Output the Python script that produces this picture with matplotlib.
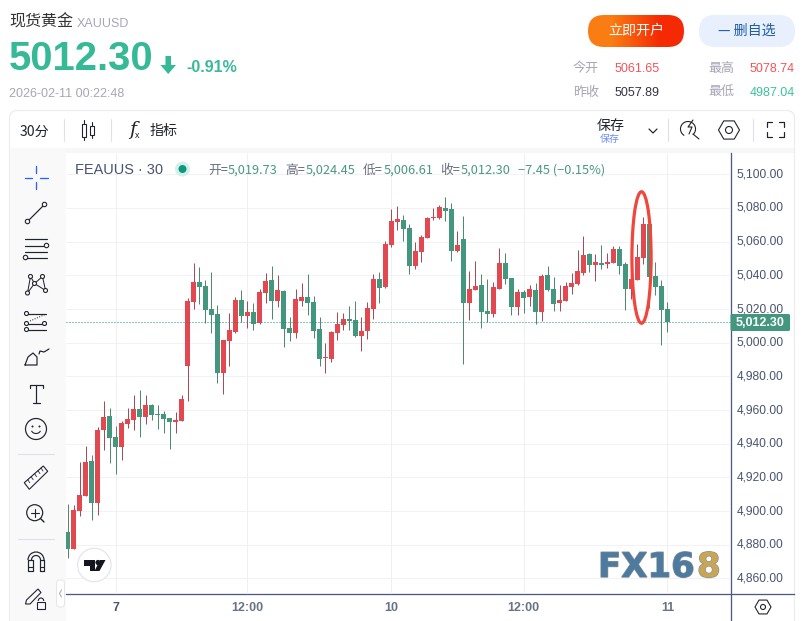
import numpy as np
import matplotlib
matplotlib.use("Agg")
import matplotlib.pyplot as plt
from matplotlib.patches import Circle, Ellipse, FancyBboxPatch, Polygon, Rectangle, Arc
from matplotlib.transforms import ScaledTranslation
import matplotlib.patheffects as pe

# candles (30 min bars)
opens = [4887.5, 4877.4, 4900.0, 4908.9, 4929.7, 4904.8, 4948.1, 4956.4, 4944.0, 4938.0,
         4951.7, 4954.1, 4960.6, 4955.9, 4963.0, 4957.6, 4957.6, 4955.3, 4952.9, 4953.5,
         4986.2, 5024.2, 5036.0, 5033.7, 5020.0, 5017.0, 4982.0, 5001.0, 5006.4, 5025.4,
         5015.9, 5018.3, 5011.7, 5029.6, 5037.3, 5024.8, 5030.8, 5008.8, 5005.8, 5024.8,
         5027.2, 5024.2, 5008.2, 4990.9, 4990.3, 5005.8, 5010.5, 5014.1, 5013.5, 5004.0,
         5007.0, 5020.1, 5037.9, 5033.2, 5058.2, 5071.9, 5073.0, 5068.3, 5045.7, 5054.0,
         5062.3, 5074.2, 5074.2, 5080.2, 5079.6, 5054.6, 5061.7, 5023.6, 5031.4, 5034.4,
         5018.9, 5017.1, 5032.0, 5047.5, 5038.5, 5021.3, 5030.2, 5027.2, 5031.4, 5018.3,
         5040.3, 5031.8, 5023.5, 5024.7, 5033.0, 5034.8, 5041.4, 5052.7, 5046.2, 5047.3,
         5046.8, 5047.3, 5055.7, 5046.8, 5031.8, 5037.2, 5050.3, 5070.6, 5039.6, 5033.6,
         5019.73]
highs = [4904.2, 4903.6, 4929.1, 4938.6, 4933.3, 4949.9, 4965.4, 4961.2, 4950.5, 4953.5,
         4961.2, 4968.9, 4971.9, 4968.9, 4963.6, 4963.0, 4959.4, 4955.3, 4958.8, 4968.9,
         5026.5, 5047.3, 5045.0, 5037.2, 5042.0, 5022.4, 5001.6, 5017.7, 5027.2, 5031.4,
         5024.8, 5023.6, 5032.0, 5041.5, 5045.7, 5040.3, 5031.4, 5015.3, 5032.0, 5035.5,
         5040.9, 5027.8, 5015.3, 4999.8, 5007.0, 5018.3, 5017.7, 5021.9, 5024.8, 5015.3,
         5024.2, 5040.9, 5042.1, 5060.5, 5079.6, 5081.4, 5076.0, 5070.7, 5059.9, 5064.1,
         5074.8, 5080.2, 5082.0, 5086.7, 5083.2, 5066.5, 5075.4, 5042.7, 5048.6, 5040.9,
         5037.9, 5036.1, 5056.4, 5053.4, 5038.5, 5032.0, 5031.4, 5034.4, 5035.5, 5040.9,
         5045.7, 5039.0, 5034.2, 5036.0, 5041.4, 5055.1, 5063.5, 5053.3, 5052.7, 5058.1,
         5053.3, 5057.5, 5057.5, 5047.9, 5037.8, 5058.7, 5074.8, 5079.0, 5047.9, 5037.2,
         5024.45]
lows = [4872.1, 4877.4, 4897.0, 4908.9, 4894.7, 4897.6, 4936.2, 4928.5, 4922.0, 4930.3,
        4949.3, 4948.1, 4944.0, 4951.7, 4954.1, 4948.7, 4946.3, 4936.8, 4946.3, 4953.5,
        4965.4, 5020.0, 5023.0, 5011.7, 5005.8, 4976.0, 4969.5, 4986.1, 5005.8, 5012.3,
        5008.8, 5007.6, 5011.1, 5023.6, 5014.1, 5021.3, 4997.5, 5001.0, 5002.8, 5021.9,
        5016.5, 5002.8, 4986.1, 4982.0, 4988.5, 5001.6, 5007.6, 5007.6, 5003.4, 4995.1,
        5002.2, 5014.1, 5023.6, 5032.6, 5057.0, 5067.1, 5060.5, 5040.9, 5043.9, 5048.0,
        5062.3, 5073.0, 5073.6, 5072.4, 5048.6, 5054.0, 4987.3, 5013.5, 5031.4, 5008.8,
        5012.3, 5015.3, 5032.0, 5035.0, 5016.5, 5016.5, 5017.7, 5021.9, 5011.1, 5012.9,
        5030.8, 5018.7, 5018.7, 5024.7, 5028.8, 5034.2, 5040.2, 5042.0, 5036.6, 5043.8,
        5044.4, 5047.3, 5040.8, 5019.3, 5025.9, 5037.2, 5046.8, 5020.5, 5028.2, 4998.4,
        5006.61]
closes = [4877.4, 4900.6, 4909.5, 4929.1, 4904.8, 4948.1, 4955.9, 4943.4, 4938.0, 4952.3,
          4954.7, 4960.6, 4955.9, 4963.0, 4957.0, 4957.0, 4954.7, 4952.9, 4954.1, 4966.5,
          5024.8, 5036.0, 5033.1, 5019.4, 5016.4, 4982.0, 5001.6, 5007.6, 5025.4, 5015.9,
          5018.3, 5011.1, 5030.2, 5036.7, 5024.8, 5031.4, 5008.2, 5005.8, 5026.0, 5027.2,
          5023.6, 5007.0, 4990.3, 4991.5, 5006.4, 5011.1, 5014.1, 5012.9, 5004.0, 5007.0,
          5020.7, 5037.9, 5032.6, 5058.8, 5072.4, 5073.6, 5067.7, 5045.7, 5054.6, 5062.9,
          5074.2, 5074.8, 5080.8, 5078.4, 5054.6, 5058.2, 5023.6, 5032.0, 5033.8, 5018.3,
          5017.1, 5033.2, 5047.5, 5037.9, 5021.3, 5030.2, 5026.6, 5032.0, 5018.3, 5039.7,
          5031.4, 5022.9, 5025.3, 5033.6, 5035.4, 5042.6, 5052.1, 5046.2, 5047.9, 5046.2,
          5047.9, 5055.7, 5045.6, 5031.8, 5037.8, 5050.9, 5070.6, 5039.0, 5033.0, 5019.3,
          5012.30]
last_price = 5012.30
y_ticks = list(range(4860, 5101, 20))
x_ticks = [8, 30, 54, 76, 100]
x_labels = ["7", "12:00", "10", "12:00", "11"]

W, H = 806, 621
CJK = ['Noto Sans CJK SC', 'Liberation Sans']
INK = "#20222c"
AXIS = "#4a5a80"
GRAY = "#a6a6b6"
RED = "#e3474f"
RED_WICK = "#a54c58"
GREEN = "#43977f"
GREEN_WICK = "#4f8a6c"
plt.rcParams['font.family'] = CJK


def pt(px):
    return px * 0.72


fig = plt.figure(figsize=(W / 100, H / 100), dpi=100, facecolor="white")


def pixel_axes(z):
    a = fig.add_axes([0, 0, 1, 1], zorder=z)
    a.set_xlim(0, W)
    a.set_ylim(H, 0)
    a.axis("off")
    a.patch.set_alpha(0)
    return a


bg = pixel_axes(0)
top = pixel_axes(2)

# chart axes, placed in pixels
x0, x1, y0, y1 = 66, 730.5, 153, 594
ax = fig.add_axes([x0 / W, 1 - y1 / H, (x1 - x0) / W, (y1 - y0) / H], zorder=1)
ax.patch.set_alpha(0)
ax.set_xlim((x0 - 67.5) / 6, (x1 - 67.5) / 6)
ax.set_ylim(5000 - (y1 - 342.7) / 1.684, 5000 + (342.7 - y0) / 1.684)

ax.hlines(y_ticks, *ax.get_xlim(), color="#f2f2f4", lw=pt(1), zorder=0)
ax.vlines(x_ticks, *ax.get_ylim(), color="#f0f0f3", lw=pt(1), zorder=0)

idx = np.arange(len(opens))
o, h, l, c = map(np.array, (opens, highs, lows, closes))
up = c >= o
ax.vlines(idx[up], l[up], h[up], color=RED_WICK, lw=pt(1), zorder=2)
ax.vlines(idx[~up], l[~up], h[~up], color=GREEN_WICK, lw=pt(1), zorder=2)
ax.bar(idx[up], np.abs(c - o)[up], bottom=np.minimum(o, c)[up], width=0.84, color=RED, zorder=3)
ax.bar(idx[~up], np.abs(c - o)[~up], bottom=np.minimum(o, c)[~up], width=0.84, color=GREEN, zorder=3)
ax.axhline(last_price, color="#1f8f75", lw=pt(1), ls=(0, (1, 2)), zorder=4)

# hand drawn marker round the two big bars
ax.add_patch(Ellipse((95.67, 5050.6), 3.2, 78.1, fill=False, ec="#f0463c", lw=pt(3.2), zorder=5))

ax.yaxis.tick_right()
ax.set_yticks(y_ticks)
ax.set_yticklabels([f"{v:,.2f}" for v in y_ticks], fontsize=pt(12), color="#4a5370",
                   fontfamily="Liberation Sans")
ax.set_xticks(x_ticks)
ax.set_xticklabels(x_labels, fontsize=pt(12.5), color="#6a7385", fontweight="bold",
                   fontfamily="Liberation Sans")
ax.get_xticklabels()[0].set_color("#4a5370")
ax.tick_params(axis="both", length=0)
ax.tick_params(axis="y", pad=pt(6))
ax.tick_params(axis="x", pad=pt(8))
for tick in ax.yaxis.get_major_ticks():
    tick.label2.set_transform(tick.label2.get_transform() + ScaledTranslation(0, 1.5 / 100, fig.dpi_scale_trans))
for s in ax.spines.values():
    s.set_visible(False)

# page furniture behind the chart
bg.add_patch(FancyBboxPatch((9.5, 110.5), 785, 530, boxstyle="round,pad=0,rounding_size=8",
                            fc="white", ec="#ececee", lw=pt(1.2)))
bg.add_patch(Rectangle((10, 148), 784, 5, fc="#f7f7f8", ec="none"))
bg.add_patch(Rectangle((10, 148), 56, 473, fc="#f9f9fa", ec="none"))
bg.plot([730.5, 730.5], [153, 621], color=AXIS, lw=pt(1.3))
bg.plot([66, 794], [594, 594], color=AXIS, lw=pt(1.3))


def label(x, y, s, size, color=INK, ha="left", weight="normal", family=None, a=top, **kw):
    return a.text(x, y, s, fontsize=pt(size), color=color, ha=ha, va="center",
                  fontweight=weight, family=family or CJK, **kw)


def line(xs, ys, color=INK, lw=1.2, a=top, **kw):
    a.plot(xs, ys, color=color, lw=pt(lw), solid_capstyle="round", **kw)


def dot(x, y, r=2.2, color=INK, lw=1.1):
    top.add_patch(Circle((x, y), r, fc="#f9f9fa", ec=color, lw=pt(lw), zorder=6))


# header
label(9, 22.5, "现货黄金", 16, "#333333")
label(77, 24, "XAUUSD", 12.5, GRAY, family="Liberation Sans")
label(9, 59.5, "5012.30", 40, "#35b996", weight="bold", family="Liberation Sans")
top.add_patch(Polygon([(165.5, 56), (171, 56), (171, 65), (176, 65), (168.2, 74), (160.5, 65), (165.5, 65)],
                      fc="#35b996", ec="none"))
label(186, 68, "-0.91%", 16, "#3bb99a", weight="bold", family="Liberation Sans")
label(9, 94, "2026-02-11 00:22:48", 12.5, GRAY, family="Liberation Sans")

# buttons
btn = FancyBboxPatch((588, 15), 96, 32, boxstyle="round,pad=0,rounding_size=16", fc="none", ec="none")
top.add_patch(btn)
grad = top.imshow(np.array([[0.0, 1.0]]), extent=(588, 684, 47, 15), aspect="auto", zorder=2,
                  interpolation="bilinear",
                  cmap=matplotlib.colors.LinearSegmentedColormap.from_list("b", ["#f97d12", "#f52a05"]))
grad.set_clip_path(btn)
top.set_xlim(0, W)
top.set_ylim(H, 0)
label(636, 30.5, "立即开户", 14, "white", ha="center", zorder=3)
top.add_patch(FancyBboxPatch((699, 15), 96, 32, boxstyle="round,pad=0,rounding_size=16", fc="#e8f0fd", ec="none"))
label(747, 30.5, "— 删自选", 14, "#1f5ca6", ha="center")

# day stats
label(573, 68.5, "今开", 13, GRAY)
label(615, 69.5, "5061.65", 12.5, "#f0555a", family="Liberation Sans")
label(708, 68.5, "最高", 13, GRAY)
label(750, 69.5, "5078.74", 12.5, "#f0555a", family="Liberation Sans")
label(573, 92.5, "昨收", 13, GRAY)
label(615, 93.5, "5057.89", 12.5, "#333344", family="Liberation Sans")
label(708, 92.5, "最低", 13, GRAY)
label(750, 93.5, "4987.04", 12.5, "#3bc19c", family="Liberation Sans")

# top toolbar
label(20, 131.5, "30分", 14)
for x in (63.5, 110.5, 667.5, 752.5):
    line([x, x], [119, 141], "#e0e0e8", 1.1)
top.add_patch(Rectangle((81.5, 124), 4.5, 13, fc="none", ec=INK, lw=pt(1.1)))
line([83.7, 83.7], [120, 124], lw=1.1)
line([83.7, 83.7], [137, 140], lw=1.1)
top.add_patch(Rectangle((90, 126), 3.5, 9, fc="none", ec=INK, lw=pt(1.1)))
line([91.7, 91.7], [122, 126], lw=1.1)
line([91.7, 91.7], [135, 138], lw=1.1)
label(129, 130, "f", 19, style="italic", family="DejaVu Serif")
label(135, 135.5, "x", 9, family="Liberation Sans")
label(150, 131, "指标", 14)
label(597, 126, "保存", 14)
label(600, 139, "保存", 10, "#6f8ef0")
line([649, 653, 657], [129, 133, 129], lw=1.2)
# lightning lens
top.add_patch(Arc((688, 129), 15, 15, theta1=-240, theta2=50, ec=INK, lw=pt(1.1)))
line([693, 688, 692, 689], [120, 127, 127, 134], lw=1.1)
line([693, 699], [134, 139], lw=1.1)
# hexagons
for cx, cy, r, ic in ((729, 130, 10.5, 3.5), (763, 607, 8, 2.5)):
    ang = np.radians(np.arange(0, 360, 60))
    top.add_patch(Polygon(np.c_[cx + r * np.cos(ang), cy + r * np.sin(ang)], fc="none", ec=INK, lw=pt(1.1)))
    top.add_patch(Circle((cx, cy), ic, fc="none", ec=INK, lw=pt(1.1)))
# fullscreen corners
for sx, sy in ((767, 122), (784, 122), (767, 137), (784, 137)):
    dx = 5 if sx == 767 else -5
    dy = 5 if sy == 122 else -5
    line([sx + dx, sx, sx], [sy, sy, sy + dy], lw=1.2)

# legend row above the plot
label(75, 170, "FEAUUS · 30", 14.5, "#4a5370", family="Liberation Sans")
top.add_patch(Circle((182.5, 169), 7.5, fc="#d7efe9", ec="none"))
top.add_patch(Circle((182.5, 169), 4, fc="#089981", ec="none"))
legend_bits = [(208, "开=", "#6a6f80"), (228, "5,019.73", "#4a9a80"),
               (285, "高=", "#6a6f80"), (306, "5,024.45", "#4a9a80"),
               (363, "低=", "#6a6f80"), (383.5, "5,006.61", "#4a9a80"),
               (440, "收=", "#6a6f80"), (460.5, "5,012.30", "#4a9a80"),
               (517.5, "−7.45 (−0.15%)", "#4a9a80")]
for x, s, col in legend_bits:
    label(x, 170.5, s, 12.8, col)

# left drawing tools
blue = "#2962ff"
line([25, 32], [177.5, 177.5], blue, 1.3)
line([40, 48], [177.5, 177.5], blue, 1.3)
line([36.3, 36.3], [166, 173], blue, 1.3)
line([36.3, 36.3], [182, 189], blue, 1.3)

line([27.5, 44.5], [221.5, 204.5])
dot(27.5, 221.5)
dot(44.5, 204.5)

for yy, xa, xb in ((239, 25, 47), (245.5, 25, 44), (252, 25, 47), (257.5, 27, 47)):
    line([xa, xb], [yy, yy])
dot(46.5, 245.5)
dot(25.5, 257.5)

pts = {"a": (30.5, 276.5), "b": (42.5, 276.5), "c": (34.5, 283.5), "d": (27.5, 293), "e": (45.5, 290.5)}
for p, q in ("ac", "ad", "cb", "be", "ce", "cd"):
    line([pts[p][0], pts[q][0]], [pts[p][1], pts[q][1]], lw=1)
for p in pts.values():
    dot(p[0], p[1], 2)

for yy in (313.5, 323.5, 329.5):
    line([26.5, 46], [yy, yy])
    dot(26.5, yy, 2)
dot(44.5, 323.5, 2)
line([30, 45], [321, 314.5], lw=1, ls=(0, (1, 1.5)))

line([25, 37, 37, 33, 28, 25], [365, 365, 357, 353, 357, 365])
line([39, 40, 44, 49], [354, 351, 352, 349])

line([29.5, 29.5, 43, 43], [388, 385, 385, 388])
line([36.3, 36.3], [385, 403])
line([33, 39.5], [403, 403])

top.add_patch(Circle((36, 429), 10.5, fc="none", ec=INK, lw=pt(1.2)))
top.add_patch(Circle((32.5, 426.5), 1, fc=INK, ec="none"))
top.add_patch(Circle((39.5, 426.5), 1, fc=INK, ec="none"))
top.add_patch(Arc((36, 430), 9, 7, theta1=10, theta2=170, ec=INK, lw=pt(1.1)))

line([18, 54], [453.5, 453.5], "#e0e0e8", 1.1)
top.add_patch(Polygon([(24.3, 482.7), (43.3, 466), (47.7, 471.3), (29.3, 489.3)], fc="none", ec=INK, lw=pt(1.1)))
for t, n in ((0.18, 3), (0.36, 3), (0.54, 3), (0.72, 3), (0.88, 3)):
    tx = 24.3 + (43.3 - 24.3) * t
    ty = 482.7 + (466 - 482.7) * t
    line([tx, tx + 2], [ty, ty + n], lw=0.8)

top.add_patch(Circle((34.7, 512.7), 8, fc="none", ec=INK, lw=pt(1.2)))
line([40.5, 44], [518.5, 522], lw=1.4)
line([31, 38.5], [512.7, 512.7], lw=1.1)
line([34.7, 34.7], [509, 516.5], lw=1.1)

line([18, 54], [538.5, 538.5], "#e0e0e8", 1.1)
top.add_patch(Arc((36, 560), 16, 16, theta1=180, theta2=360, ec=INK, lw=pt(1.2)))
top.add_patch(Arc((36, 560), 9, 9, theta1=180, theta2=360, ec=INK, lw=pt(1.2)))
line([28, 28, 32.5, 32.5, 28], [560, 571, 571, 560, 560], lw=1.2)
line([44, 44, 39.5, 39.5, 44], [560, 571, 571, 560, 560], lw=1.2)
line([28, 32.5], [567, 567], lw=1.1)
line([39.5, 44], [567, 567], lw=1.1)

top.add_patch(Polygon([(25.5, 604), (26.5, 600), (38, 589), (41, 592.5), (30, 604)], fc="none", ec=INK, lw=pt(1.1)))
top.add_patch(Rectangle((37, 602), 8, 7, fc="#f9f9fa", ec=INK, lw=pt(1.1), zorder=6))
top.add_patch(Arc((41, 601), 5.5, 6, theta1=180, theta2=360, ec=INK, lw=pt(1.1), zorder=6))

top.add_patch(FancyBboxPatch((56.5, 580), 8, 27, boxstyle="round,pad=0,rounding_size=3", fc="white", ec="#e6e6ee", lw=pt(1)))
line([61.5, 59.5, 61.5], [590, 593.5, 597], "#a8a8b8", 1)

# TradingView badge
top.add_patch(Circle((94.3, 565), 16.7, fc="white", ec="#e4e4ee", lw=pt(1.2)))
top.add_patch(Polygon([(84, 560), (95, 560), (95, 571), (89.5, 571), (89.5, 565.5), (84, 565.5)], fc="#14161f", ec="none"))
top.add_patch(Circle((98, 562.5), 2.6, fc="#14161f", ec="none"))
top.add_patch(Polygon([(99.5, 571), (94.5, 571), (100, 560), (105.5, 560)], fc="#14161f", ec="none"))

# last price tag
top.add_patch(FancyBboxPatch((730.5, 314), 59.5, 17, boxstyle="round,pad=0,rounding_size=1.5", fc=GREEN, ec="none"))
label(760, 323, "5,012.30", 12.5, "white", ha="center", weight="bold", family="Liberation Sans")

# watermark
shadow = [pe.withStroke(linewidth=1, foreground="#8a8f98")]
label(598, 567.5, "FX16", 34, "#4d7ba0", weight="bold", family="DejaVu Sans", path_effects=shadow)
label(697, 567.5, "8", 34, "#c9a654", weight="bold", family="DejaVu Sans", path_effects=shadow)

fig.savefig("out.png", dpi=100)
